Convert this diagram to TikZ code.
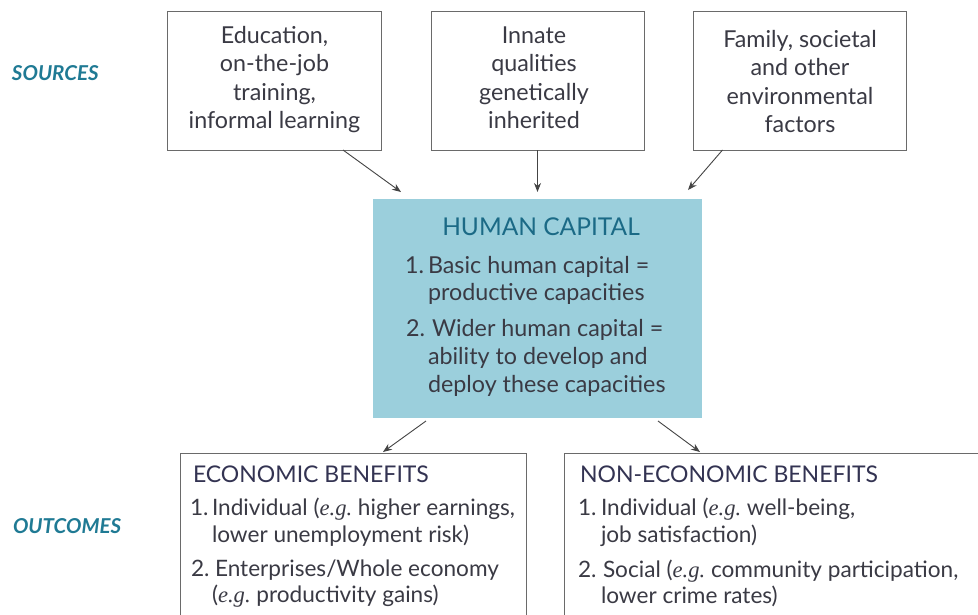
\documentclass[tikz,border=0pt]{standalone}
\usepackage{fontspec}
\setmainfont{Lato}
\newfontfamily\egfont{Liberation Serif}
\usetikzlibrary{arrows.meta,calc}
\definecolor{txtgray}{HTML}{3A3A44}
\definecolor{boxgray}{HTML}{6A6A6A}
\definecolor{hcfill}{HTML}{9BCFDC}
\definecolor{hcteal}{HTML}{1B6A86}
\definecolor{lblteal}{HTML}{1F7A94}
\definecolor{arrgray}{HTML}{444444}
\newcommand{\eg}{{\egfont\itshape e.g.}}
\begin{document}
\begin{tikzpicture}[x=1pt,y=-1pt,
  every node/.style={inner sep=0pt, outer sep=0pt},
  framebox/.style={draw=boxgray, line width=1pt},
  txt/.style={text=txtgray, font=\fontsize{23.3}{26}\selectfont},
  otxt/.style={txt, anchor=base west, font=\fontsize{22.6}{26}\selectfont},
  ctxt/.style={txt, anchor=base},
  ltxt/.style={txt, anchor=base west},
  ttl/.style={ltxt, text=black!80!blue!60!gray, font=\fontsize{23}{26}\selectfont},
  side/.style={anchor=base west, text=lblteal, font=\fontsize{20.5}{22}\selectfont\bfseries\itshape},
  conn/.style={draw=arrgray, line width=0.9pt, -{Stealth[length=9pt,width=7pt]}}
]
\useasboundingbox (0,0) rectangle (978,614);
\clip (0,0) rectangle (978,614);
\fill[white] (0,0) rectangle (978,614);

% side labels
\node[side] (lsrc) at (12,80) {SOURCES};
\node[side] (lout) at (13,533) {OUTCOMES};

% source boxes
\node[framebox, minimum width=214pt, minimum height=139pt] (b1) at (274,80.5) {};
\node[framebox, minimum width=213pt, minimum height=139pt] (b2) at (537.5,80.5) {};
\node[framebox, minimum width=213pt, minimum height=139pt] (b3) at (799.5,80.5) {};

\node[ctxt] (b1l1) at (274.5,43) {Education,};
\node[ctxt] (b1l2) at (274.5,71.5) {on-the-job};
\node[ctxt] (b1l3) at (274.5,100) {training,};
\node[ctxt] (b1l4) at (274.5,128.5) {informal learning};

\node[ctxt] (b2l1) at (534,43) {Innate};
\node[ctxt] (b2l2) at (534,71.5) {qualities};
\node[ctxt] (b2l3) at (534,100) {genetically};
\node[ctxt] (b2l4) at (534,128.5) {inherited};

\node[ctxt] (b3l1) at (800,47) {Family, societal};
\node[ctxt] (b3l2) at (800,75.5) {and other};
\node[ctxt] (b3l3) at (800,104) {environmental};
\node[ctxt] (b3l4) at (800,132.5) {factors};

% human capital box
\node[fill=hcfill, minimum width=329pt, minimum height=219pt] (hc) at (537.5,308.5) {};
\node[ctxt, text=hcteal, font=\fontsize{24.5}{26}\selectfont] (hct) at (541,235) {HUMAN CAPITAL};
\node[ltxt] (hc1) at (405,273) {1.};
\node[ltxt] (hc1a) at (428,273) {Basic human capital =};
\node[ltxt] (hc1b) at (428,300) {productive capacities};
\node[ltxt] (hc2) at (406,336) {2.};
\node[ltxt] (hc2a) at (432,336) {Wider human capital =};
\node[ltxt] (hc2b) at (428,364) {ability to develop and};
\node[ltxt] (hc2c) at (428,392) {deploy these capacities};

% outcome boxes
\node[framebox, minimum width=346pt, minimum height=250pt] (eco) at (353,578) {};
\node[framebox, minimum width=450pt, minimum height=250pt] (non) at (789,578) {};

\node[ttl] (ecot) at (193,482) {ECONOMIC BENEFITS};
\node[otxt] (eco1) at (190,515) {1.};
\node[otxt] (eco1a) at (212,515) {Individual (\eg\ higher earnings,};
\node[otxt] (eco1b) at (212,542) {lower unemployment risk)};
\node[otxt] (eco2) at (191,576) {2.};
\node[otxt] (eco2a) at (215,576) {Enterprises/Whole economy};
\node[otxt] (eco2b) at (212,602) {(\eg\ productivity gains)};

\node[ttl] (nont) at (580,482) {NON-ECONOMIC BENEFITS};
\node[otxt] (non1) at (578,515) {1.};
\node[otxt] (non1a) at (601,515) {Individual (\eg\ well-being,};
\node[otxt] (non1b) at (601,542) {job satisfaction)};
\node[otxt] (non2) at (578,577) {2.};
\node[otxt] (non2a) at (603,577) {Social (\eg\ community participation,};
\node[otxt] (non2b) at (601,603) {lower crime rates)};

% connectors
\draw[conn] ($(b1.south)+(69,0)$) -- ($(hc.north west)+(28,-7)$);
\draw[conn] (b2.south) -- ($(hc.north)+(0,-7)$);
\draw[conn] ($(b3.south)+(-77,0)$) -- ($(hc.north east)+(-14,-9)$);
\draw[conn] ($(hc.south west)+(53,3)$) -- ($(eco.north west)+(203,-1)$);
\draw[conn] ($(hc.south east)+(-44,3)$) -- ($(non.north west)+(136,-1)$);
\end{tikzpicture}
\end{document}
